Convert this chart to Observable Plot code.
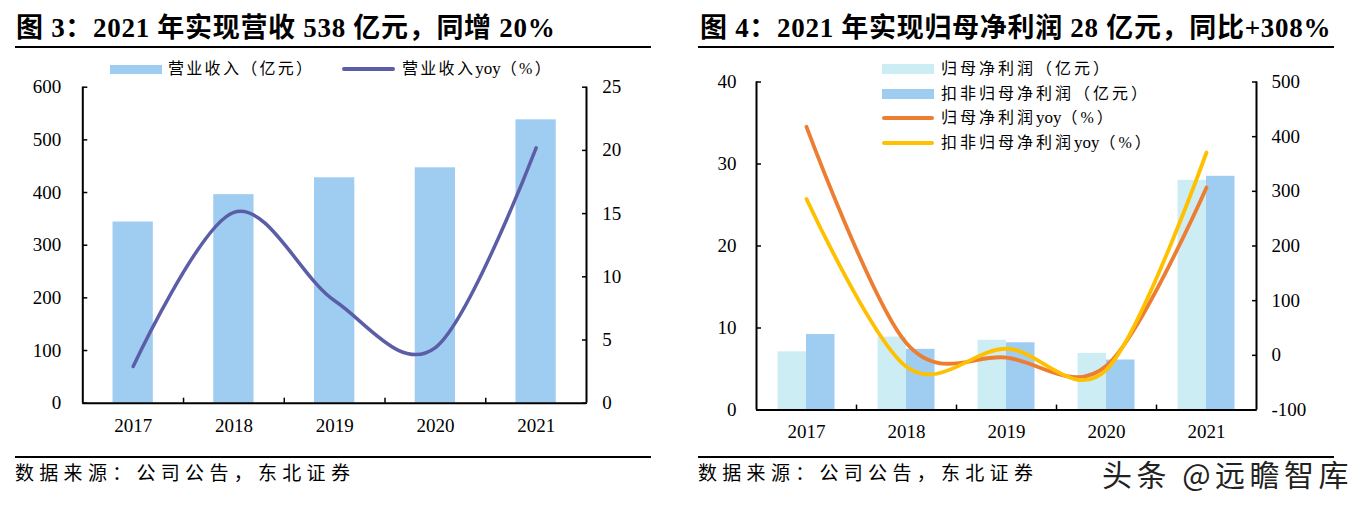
<!DOCTYPE html>
<html><head><meta charset="utf-8">
<script src="https://cdn.jsdelivr.net/npm/d3@7"></script>
<script src="https://cdn.jsdelivr.net/npm/@observablehq/plot@0.6"></script>
<style>
body{margin:0;background:#fff;width:1368px;height:506px;position:relative;overflow:hidden;font-family:"Liberation Serif","Noto Sans CJK SC",serif;color:#000;}
.abs{position:absolute;}
.title{font-size:27px;font-weight:bold;line-height:32px;white-space:nowrap;letter-spacing:0.7px;}
.rule{position:absolute;height:2px;background:#000;}
.cap{position:absolute;font-size:19px;letter-spacing:5.3px;line-height:24px;white-space:nowrap;}
.leg{position:absolute;font-size:16px;line-height:20px;white-space:nowrap;}
.leg span{letter-spacing:0;font-size:17px;}
.sw{position:absolute;}
.wm{position:absolute;font-family:"Noto Sans CJK SC",sans-serif;font-size:30px;line-height:36px;white-space:nowrap;color:#222;letter-spacing:4.5px;
 text-shadow:2px 2px 0 #fff,-1px -1px 0 #fff,1px -1px 0 #fff,-1px 1px 0 #fff;}
</style></head><body>
<div id="left" class="abs" style="left:0;top:0;width:684px;height:445px"></div>
<div id="right" class="abs" style="left:684px;top:0;width:684px;height:445px"></div>

<div class="abs title" style="left:16px;top:12px">图 3：2021 年实现营收 538 亿元，同增 20%</div>
<div class="rule" style="left:15px;top:46px;width:636px"></div>
<div class="abs title" style="left:700px;top:12px">图 4：2021 年实现归母净利润 28 亿元，同比+308%</div>
<div class="rule" style="left:698px;top:46px;width:636px"></div>

<div class="sw" style="left:110px;top:65px;width:52px;height:9px;background:#9FCDF2"></div>
<div class="leg" style="left:168px;top:59px;letter-spacing:2.3px">营业收入（亿元）</div>
<div class="sw" style="left:342px;top:67px;width:53px;height:4px;border-radius:2px;background:#5B5EA6"></div>
<div class="leg" style="left:402px;top:59px;letter-spacing:2.3px">营业收入<span>yoy</span>（%）</div>

<div class="sw" style="left:882px;top:64px;width:52px;height:10px;background:#CDEDF5"></div>
<div class="leg" style="left:941px;top:59px;letter-spacing:3px">归母净利润（亿元）</div>
<div class="sw" style="left:882px;top:89px;width:52px;height:10px;background:#9FCDF2"></div>
<div class="leg" style="left:941px;top:84px;letter-spacing:3px">扣非归母净利润（亿元）</div>
<div class="sw" style="left:882px;top:116px;width:52px;height:4px;border-radius:2px;background:#ED7D31"></div>
<div class="leg" style="left:941px;top:108px;letter-spacing:3px">归母净利润<span>yoy</span>（%）</div>
<div class="sw" style="left:882px;top:141px;width:52px;height:4px;border-radius:2px;background:#FFC000"></div>
<div class="leg" style="left:941px;top:133px;letter-spacing:3px">扣非归母净利润<span>yoy</span>（%）</div>

<div class="rule" style="left:15px;top:456px;width:636px"></div>
<div class="cap" style="left:15px;top:462px">数据来源：公司公告，东北证券</div>
<div class="rule" style="left:698px;top:456px;width:636px"></div>
<div class="cap" style="left:698px;top:462px">数据来源：公司公告，东北证券</div>
<div class="wm" style="left:1102px;top:455px">头条 @远瞻智库</div>

<script>
const years = ["2017", "2018", "2019", "2020", "2021"];
const revenue = [344, 396, 428, 447, 538];
const revenueYoy = [2.9, 15.1, 8.1, 4.4, 20.2];
const netProfit = [7.1, 8.9, 8.5, 6.9, 28.0];
const deductedProfit = [9.2, 7.4, 8.2, 6.1, 28.5];
const netProfitYoy = [418, 22, -4, -19, 307];
const deductedProfitYoy = [286, -21, 12, -26, 371];
const leftTicks = [0, 100, 200, 300, 400, 500, 600];
const leftRightTicks = [0, 5, 10, 15, 20, 25];
const rightLeftTicks = [0, 10, 20, 30, 40];
const rightRightTicks = [-100, 0, 100, 200, 300, 400, 500];

const revData = years.map((year, i) => ({year, value: revenue[i], yoy: revenueYoy[i]}));
const profitData = years.map((year, i) => ({year, net: netProfit[i], deducted: deductedProfit[i], netYoy: netProfitYoy[i], dedYoy: deductedProfitYoy[i]}));

const baseStyle = {fontFamily: "Liberation Serif", fontSize: "19px", color: "#000", background: "transparent", overflow: "visible"};

// Left chart: right axis 0..25 mapped onto 0..600
const k1 = 600 / 25;
const step1 = (684 - 82.3 - 98) / 5;
const left = Plot.plot({
  width: 684, height: 445,
  marginLeft: 82.3, marginRight: 98, marginTop: 86.7, marginBottom: 42.3,
  style: baseStyle,
  x: {type: "band", domain: years, paddingInner: 0.6, paddingOuter: 0.3, round: false, label: null},
  y: {domain: [0, 600], label: null},
  marks: [
    Plot.barY(revData, {x: "year", y: "value", fill: "#9FCDF2"}),
    Plot.line(revData, {x: "year", y: d => d.yoy * k1, stroke: "#5B5EA6", strokeWidth: 3.5, curve: "cardinal", strokeLinecap: "round"}),
    Plot.ruleY([0], {stroke: "#000", strokeWidth: 2}),
    Plot.ruleX([years[0]], {x: d => d, dx: -step1 / 2, stroke: "#000", strokeWidth: 2}),
    Plot.ruleX([years[4]], {x: d => d, dx: step1 / 2, stroke: "#000", strokeWidth: 2}),
    Plot.ruleX(years.slice(0, 4), {x: d => d, y1: 0, y2: 9.5, dx: step1 / 2, stroke: "#000", strokeWidth: 1.5}),
    Plot.axisX({tickSize: 0, tickPadding: 15, label: null}),
    Plot.axisY({anchor: "left", ticks: leftTicks, tickSize: -5, tickPadding: 26.6, strokeWidth: 1.5, label: null, tickFormat: d => String(d)}),
    Plot.axisY({anchor: "right", ticks: leftRightTicks.map(v => v * k1), tickSize: -5, tickPadding: 20.7, strokeWidth: 1.5, label: null, tickFormat: d => String(Math.round(d / k1))})
  ]
});
document.getElementById("left").appendChild(left);

// Right chart: right axis -100..500 mapped onto 0..40
const toLeft = v => (v + 100) / 600 * 40;
const step2 = (684 - 72 - 112) / 5;
const right = Plot.plot({
  width: 684, height: 445,
  marginLeft: 72, marginRight: 112, marginTop: 81.5, marginBottom: 35.5,
  style: baseStyle,
  x: {type: "band", domain: years, paddingInner: 0.43, paddingOuter: 0.215, round: false, label: null},
  y: {domain: [0, 40], label: null},
  marks: [
    Plot.barY(profitData, {x: "year", y: "net", fill: "#CDEDF5", insetRight: 28.5}),
    Plot.barY(profitData, {x: "year", y: "deducted", fill: "#9FCDF2", insetLeft: 28.5}),
    Plot.line(profitData, {x: "year", y: d => toLeft(d.netYoy), stroke: "#ED7D31", strokeWidth: 3.8, curve: "cardinal", strokeLinecap: "round"}),
    Plot.line(profitData, {x: "year", y: d => toLeft(d.dedYoy), stroke: "#FFC000", strokeWidth: 3.8, curve: "cardinal", strokeLinecap: "round"}),
    Plot.ruleY([0], {stroke: "#000", strokeWidth: 2}),
    Plot.ruleX([years[0]], {x: d => d, dx: -step2 / 2, stroke: "#000", strokeWidth: 2}),
    Plot.ruleX([years[4]], {x: d => d, dx: step2 / 2, stroke: "#000", strokeWidth: 2}),
    Plot.ruleX(years.slice(0, 4), {x: d => d, y1: 0, y2: 0.6, dx: step2 / 2, stroke: "#000", strokeWidth: 1.5}),
    Plot.axisX({tickSize: 0, tickPadding: 14, label: null}),
    Plot.axisY({anchor: "left", ticks: rightLeftTicks, tickSize: -5, tickPadding: 25, strokeWidth: 1.5, label: null, tickFormat: d => String(d)}),
    Plot.axisY({anchor: "right", ticks: rightRightTicks.map(toLeft), tickSize: -5, tickPadding: 20, strokeWidth: 1.5, label: null, tickFormat: d => String(Math.round(d / 40 * 600 - 100))})
  ]
});
document.getElementById("right").appendChild(right);
</script>
</body></html>
